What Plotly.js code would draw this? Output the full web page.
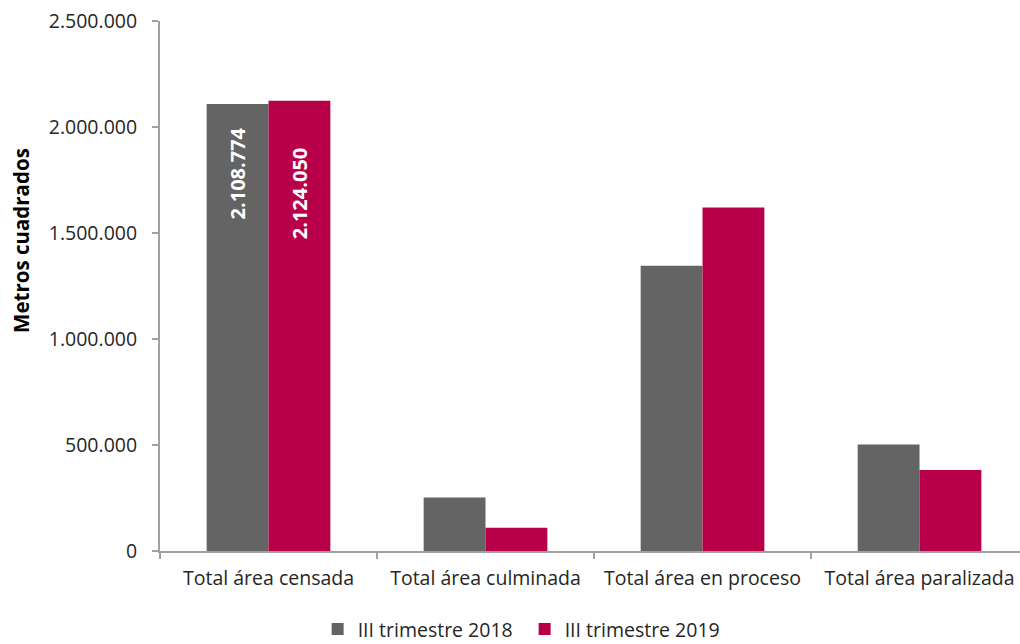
<!DOCTYPE html>
<html>
<head>
<meta charset="utf-8">
<script src="https://cdn.plot.ly/plotly-3.0.1.min.js"></script>
<style>html,body{margin:0;padding:0;background:#fff;overflow:hidden}</style>
</head>
<body>
<div id="chart" style="width:1020px;height:644px"></div>
<script>
const categories = ["Total área censada", "Total área culminada", "Total área en proceso", "Total área paralizada"];
const series2018 = [2108774, 252000, 1345000, 502000];
const series2019 = [2124050, 110000, 1620000, 382000];
const seriesNames = ["III trimestre 2018", "III trimestre 2019"];
const yTicks = [0, 500000, 1000000, 1500000, 2000000, 2500000];
const yTitle = "Metros cuadrados";
const labelledIndex = 0;

const fmt = v => v.toString().replace(/\B(?=(\d{3})+(?!\d))/g, ".");
const yTickText = yTicks.map(fmt);

const traces = [
  {type: "bar", name: seriesNames[0], x: categories, y: series2018,
   marker: {color: "#646464"}, hoverinfo: "none"},
  {type: "bar", name: seriesNames[1], x: categories, y: series2019,
   marker: {color: "#B8004A"}, hoverinfo: "none"}
];

const annotations = [
  {x: categories[labelledIndex], y: series2018[labelledIndex], text: fmt(series2018[labelledIndex]),
   xshift: -31, yshift: -70},
  {x: categories[labelledIndex], y: series2019[labelledIndex], text: fmt(series2019[labelledIndex]),
   xshift: 31, yshift: -93}
].map(a => Object.assign({xref: "x", yref: "y", showarrow: false, textangle: -90,
  xanchor: "center", yanchor: "middle",
  font: {family: "Open Sans", size: 20, color: "#ffffff", weight: "bold"}}, a));

annotations.push({
  xref: "paper", yref: "paper", x: 0, y: 0.585, xshift: -139, showarrow: false,
  textangle: -90, xanchor: "center", yanchor: "middle", text: yTitle,
  font: {family: "Open Sans", size: 20.5, color: "#000000", weight: "bold"}
});

const layout = {
  width: 1020, height: 644,
  margin: {l: 160, r: 0, t: 21, b: 93, autoexpand: false},
  paper_bgcolor: "#ffffff", plot_bgcolor: "#ffffff",
  font: {family: "Open Sans", size: 19.5, color: "#262626"},
  barmode: "group", bargap: 0.43, bargroupgap: 0,
  xaxis: {
    range: [-0.5, 3.463],
    showline: true, linecolor: "#a0a0a0", linewidth: 2,
    ticks: "outside", tickson: "boundaries", ticklen: 6, tickcolor: "#a0a0a0", tickwidth: 2,
    showgrid: false, zeroline: false, automargin: false,
    ticklabelstandoff: 9,
    tickfont: {size: 19.5, color: "#262626"}
  },
  yaxis: {
    range: [0, 2500000],
    tickvals: yTicks, ticktext: yTickText,
    showline: true, linecolor: "#a0a0a0", linewidth: 2,
    ticks: "outside", ticklen: 6, tickcolor: "#a0a0a0", tickwidth: 2,
    showgrid: false, zeroline: false, automargin: false,
    ticklabelstandoff: 11,
    tickfont: {size: 19.5, color: "#262626"}
  },
  showlegend: true,
  legend: {orientation: "h", x: 0.424, xanchor: "center", y: -0.148, yanchor: "middle",
    font: {size: 19.5, color: "#262626"}, itemwidth: 30, traceorder: "normal",
    entrywidth: 162, entrywidthmode: "pixels"},
  annotations: annotations
};

Plotly.newPlot("chart", traces, layout, {displayModeBar: false, staticPlot: true});
</script>
</body>
</html>
